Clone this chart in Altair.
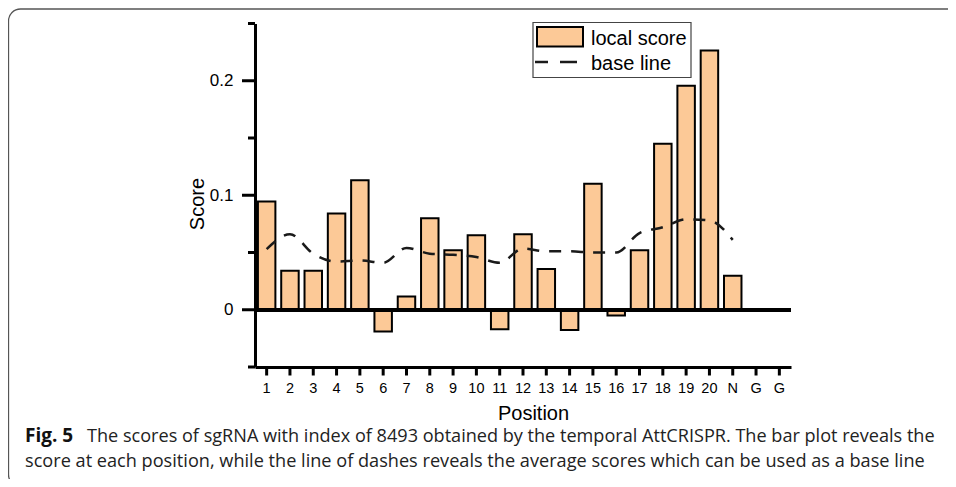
import altair as alt
import pandas as pd

positions = [str(i) for i in range(1, 21)] + ["N", "G", "G2"]
bar_positions = [str(i) for i in range(1, 21)] + ["N"]
local_score = [0.0945, 0.034, 0.034, 0.084, 0.113, -0.019, 0.0116, 0.080, 0.052, 0.065,
               -0.017, 0.066, 0.0355, -0.0177, 0.110, -0.005, 0.052, 0.145, 0.1956, 0.2264,
               0.0296]
base_line = [0.053, 0.066, 0.049, 0.042, 0.043, 0.041, 0.054, 0.049, 0.048, 0.046,
             0.041, 0.0535, 0.051, 0.051, 0.050, 0.050, 0.067, 0.072, 0.079, 0.078,
             0.061]
y_major = [0, 0.1, 0.2]
y_minor = [-0.05, 0.05, 0.15, 0.25]
caption_bold = "Fig. 5"
caption_1 = "The scores of sgRNA with index of 8493 obtained by the temporal AttCRISPR. The bar plot reveals the"
caption_2 = "score at each position, while the line of dashes reveals the average scores which can be used as a base line"
legend_labels = ["local score", "base line"]

df = pd.DataFrame({"pos": bar_positions, "score": local_score, "base": base_line})
df_xt = pd.DataFrame({"pos": positions})
df_major = pd.DataFrame({"v": y_major})
df_minor = pd.DataFrame({"v": y_minor})

W, H = 536, 343.5
FILL = "#FCC997"
AX = "Liberation Sans"

xscale = alt.Scale(domain=positions, paddingInner=0.25, paddingOuter=0.125)
yscale = alt.Scale(domain=[-0.05, 0.25], nice=False, zero=False)

x_axis = alt.Axis(
    title="Position", labelAngle=0, labelFont=AX, labelFontSize=14.5, labelFontWeight="normal",
    labelColor="black", labelExpr="datum.label == 'G2' ? 'G' : datum.label",
    ticks=False, domainWidth=3, domainColor="black",
    labelPadding=14, titleFont=AX, titleFontSize=20, titleFontWeight="normal", titleColor="black",
    titleBaseline="alphabetic", titleX=278, titleY=52.5,
)
y_axis = alt.Axis(
    title="Score", values=y_major, grid=False, format="~g",
    labelFont=AX, labelFontSize=17, labelFontWeight="normal", labelColor="black", labelPadding=22,
    ticks=False, domainWidth=3, domainColor="black",
    titleFont=AX, titleFontSize=20, titleFontWeight="normal", titleColor="black",
    titleBaseline="alphabetic", titleX=-52, titleY=180,
)

bars = alt.Chart(df).mark_bar(fill=FILL, stroke="black", strokeWidth=2).encode(
    x=alt.X("pos:N", scale=xscale, sort=positions, axis=x_axis),
    y=alt.Y("score:Q", scale=yscale, axis=y_axis),
)

zero = alt.Chart(df).mark_rule(color="black", strokeWidth=3).encode(
    y=alt.Y(datum=0, scale=yscale))

line = alt.Chart(df).mark_line(
    color="#1a1a1a", strokeWidth=2.5, strokeDash=[12, 10], interpolate="monotone"
).encode(
    x=alt.X("pos:N", scale=xscale, sort=positions),
    y=alt.Y("base:Q", scale=yscale),
)

# axis ticks (drawn through the scales)
xticks = alt.Chart(df_xt).mark_rule(color="black", strokeWidth=3).encode(
    x=alt.X("pos:N", scale=xscale, sort=positions), y=alt.value(H), y2=alt.value(H + 8.5))
yticks_major = alt.Chart(df_major).mark_rule(color="black", strokeWidth=3).encode(
    y=alt.Y("v:Q", scale=yscale), x=alt.value(-13), x2=alt.value(0))
yticks_minor = alt.Chart(df_minor).mark_rule(color="black", strokeWidth=3).encode(
    y=alt.Y("v:Q", scale=yscale), x=alt.value(-7), x2=alt.value(0))

# legend box
one = pd.DataFrame({"a": [0]})
leg_box = alt.Chart(one).mark_rect(fill="white", stroke="#444", strokeWidth=1.2).encode(
    x=alt.value(278), x2=alt.value(436), y=alt.value(-1), y2=alt.value(54))
leg_swatch = alt.Chart(one).mark_rect(fill=FILL, stroke="black", strokeWidth=2).encode(
    x=alt.value(282), x2=alt.value(328), y=alt.value(3.5), y2=alt.value(23))
leg_t1 = alt.Chart(one).mark_text(
    text=legend_labels[0], font=AX, fontSize=20, align="left", baseline="alphabetic", color="black"
).encode(x=alt.value(336), y=alt.value(21))
leg_t2 = alt.Chart(one).mark_text(
    text=legend_labels[1], font=AX, fontSize=20, align="left", baseline="alphabetic", color="black"
).encode(x=alt.value(336), y=alt.value(46.5))
leg_d1 = alt.Chart(one).mark_rule(color="#1a1a1a", strokeWidth=2.5).encode(
    x=alt.value(280), x2=alt.value(293), y=alt.value(38.5))
leg_d2 = alt.Chart(one).mark_rule(color="#1a1a1a", strokeWidth=2.5).encode(
    x=alt.value(305), x2=alt.value(322), y=alt.value(38.5))

# figure frame and caption
frame = alt.Chart(one).mark_rect(
    fillOpacity=0, stroke="#555", strokeWidth=1.3, cornerRadius=12
).encode(x=alt.value(-246.5), x2=alt.value(720), y=alt.value(-14.5), y2=alt.value(463))
cap_b = alt.Chart(one).mark_text(
    text=caption_bold, font="Open Sans", fontSize=19, fontWeight="bold", align="left",
    baseline="alphabetic", color="#111"
).encode(x=alt.value(-230), y=alt.value(418.5))
cap_1 = alt.Chart(one).mark_text(
    text=caption_1, font="Open Sans", fontSize=18.1, align="left", baseline="alphabetic", color="#222"
).encode(x=alt.value(-168), y=alt.value(418.5))
cap_2 = alt.Chart(one).mark_text(
    text=caption_2, font="Open Sans", fontSize=18.15, align="left", baseline="alphabetic", color="#222"
).encode(x=alt.value(-230), y=alt.value(443.5))

chart = alt.layer(
    frame, bars, zero, line, xticks, yticks_major, yticks_minor,
    leg_box, leg_swatch, leg_t1, leg_t2, leg_d1, leg_d2, cap_b, cap_1, cap_2
).properties(
    width=W, height=H,
    autosize=alt.AutoSizeParams(type="none"),
    padding={"left": 247, "top": 15.5, "right": 157, "bottom": 112},
).configure_view(stroke=None)

chart.save("out.html", embed_options={"renderer": "svg", "actions": False})
